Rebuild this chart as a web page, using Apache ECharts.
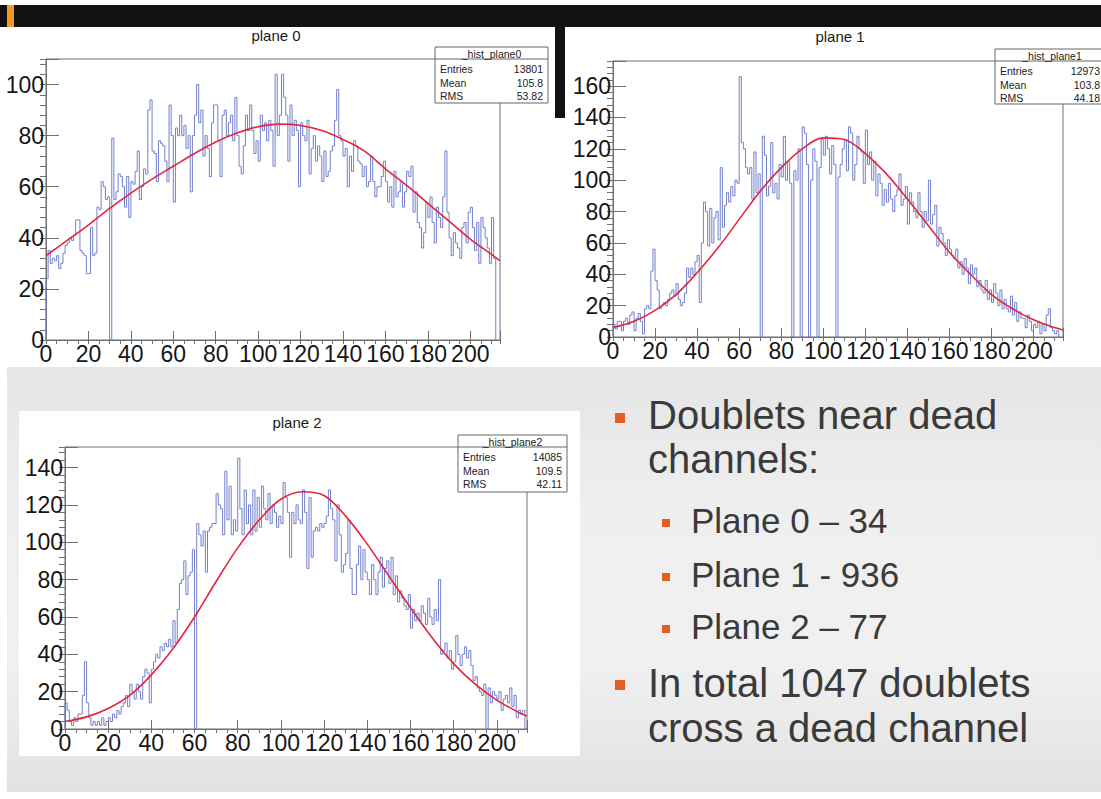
<!DOCTYPE html>
<html>
<head>
<meta charset="utf-8">
<title>Doublets near dead channels</title>
<script src="https://cdn.jsdelivr.net/npm/echarts@6/dist/echarts.min.js"></script>
<style>
  html, body { margin: 0; padding: 0; }
  body { width: 1101px; height: 799px; position: relative; overflow: hidden; background: #fff;
         font-family: "Liberation Sans", Arial, sans-serif; }
  .deco { position: absolute; z-index: 1; }
  .topbar { left: 0; top: 5px; width: 1101px; height: 22px; background: #111; }
  .mark { left: 7px; top: 5px; width: 7px; height: 22px; background: #f29a1d; z-index: 2; }
  .strip { left: 555px; top: 27px; width: 10px; height: 91px; background: #121212; }
  .floor { left: 7px; top: 367px; width: 1094px; height: 425px;
           background: linear-gradient(to bottom, #e5e5e5 0%, #efefef 35%, #f0f0f0 70%, #e2e2e2 100%); }
  .panel2 { left: 19px; top: 411px; width: 561px; height: 345px; background: #fff; }
  #chart { position: absolute; left: 0; top: 0; width: 1101px; height: 799px; z-index: 3; }
  .line { position: absolute; z-index: 4; white-space: nowrap; color: #3a3a3a; line-height: 1; }
  .big { font-size: 40px; }
  .small { font-size: 35px; }
  .dot { position: absolute; z-index: 4; background: #e2601e; }
</style>
</head>
<body>
<div class="deco topbar"></div>
<div class="deco mark"></div>
<div class="deco strip"></div>
<div class="deco floor"></div>
<div class="deco panel2"></div>
<div id="chart"></div>

<div class="dot" style="left:615px;top:413px;width:10px;height:10px"></div>
<div class="line big" style="left:648px;top:395px">Doublets near dead</div>
<div class="line big" style="left:648px;top:439px">channels:</div>
<div class="dot" style="left:662px;top:519px;width:8px;height:8px"></div>
<div class="line small" style="left:691px;top:503px">Plane 0 – 34</div>
<div class="dot" style="left:662px;top:573px;width:8px;height:8px"></div>
<div class="line small" style="left:691px;top:557px">Plane 1 - 936</div>
<div class="dot" style="left:662px;top:625px;width:8px;height:8px"></div>
<div class="line small" style="left:691px;top:609px">Plane 2 – 77</div>
<div class="dot" style="left:615px;top:680px;width:10px;height:10px"></div>
<div class="line big" style="left:648px;top:663px">In total 1047 doublets</div>
<div class="line big" style="left:648px;top:708px">cross a dead channel</div>

<script>
// channel histograms, one count per channel (bin width 1)
const plane0Counts = [
  24, 35, 30, 32, 31, 33, 28, 30, 34, 37,
  38, 40, 39, 41, 47, 47, 35, 34, 33, 26,
  26, 44, 33, 34, 52, 51, 62, 60, 55, 56,
  0, 79, 55, 58, 65, 64, 60, 52, 64, 48,
  62, 61, 66, 74, 55, 60, 67, 65, 90, 94,
  74, 73, 62, 78, 77, 76, 70, 62, 92, 80,
  54, 83, 80, 88, 80, 84, 75, 80, 58, 80,
  88, 100, 85, 90, 72, 80, 75, 64, 85, 92,
  92, 78, 64, 88, 90, 80, 85, 88, 78, 95,
  80, 68, 65, 76, 88, 82, 92, 82, 73, 78,
  70, 88, 82, 85, 78, 86, 82, 68, 104, 80,
  88, 104, 95, 88, 70, 92, 80, 86, 82, 60,
  85, 80, 78, 86, 65, 75, 80, 70, 76, 72,
  62, 74, 64, 66, 74, 76, 86, 98, 80, 78,
  72, 75, 60, 72, 66, 78, 76, 70, 69, 64,
  68, 60, 62, 72, 62, 56, 60, 60, 64, 70,
  62, 54, 60, 52, 66, 56, 58, 62, 52, 58,
  66, 64, 68, 50, 58, 46, 44, 36, 42, 54,
  48, 56, 46, 38, 52, 48, 44, 56, 74, 50,
  40, 33, 42, 38, 36, 32, 44, 46, 38, 50,
  52, 44, 35, 46, 30, 48, 44, 40, 36, 30,
  48, 32
];
const plane1Counts = [
  8, 5, 10, 10, 4, 10, 12, 8, 14, 16,
  4, 12, 15, 10, 2, 18, 20, 18, 42, 56,
  36, 30, 18, 20, 22, 20, 24, 28, 30, 26,
  34, 24, 20, 22, 28, 44, 38, 44, 40, 48,
  52, 22, 60, 86, 80, 58, 82, 60, 76, 80,
  62, 108, 70, 84, 92, 86, 96, 90, 100, 98,
  166, 124, 120, 108, 104, 108, 88, 118, 92, 104,
  0, 128, 116, 90, 96, 124, 92, 98, 88, 110,
  102, 128, 100, 112, 98, 0, 106, 100, 120, 0,
  134, 130, 110, 0, 100, 120, 112, 0, 108, 126,
  116, 128, 120, 104, 122, 110, 0, 102, 110, 120,
  126, 106, 134, 130, 100, 110, 128, 120, 118, 98,
  132, 110, 118, 100, 112, 90, 104, 98, 84, 94,
  86, 98, 88, 80, 90, 94, 104, 84, 88, 96,
  72, 92, 86, 80, 76, 92, 80, 70, 80, 74,
  100, 72, 78, 84, 58, 70, 66, 60, 52, 62,
  56, 52, 50, 56, 44, 48, 40, 50, 44, 34,
  46, 40, 44, 32, 36, 30, 28, 36, 24, 30,
  22, 34, 28, 20, 30, 18, 24, 18, 16, 26,
  14, 22, 10, 16, 12, 12, 6, 14, 10, 4,
  8, 6, 10, 2, 8, 4, 14, 18, 6, 4,
  2, 4
];
const plane2Counts = [
  14, 10, 4, 2, 6, 4, 8, 8, 18, 36,
  14, 6, 2, 4, 2, 4, 2, 6, 2, 4,
  6, 4, 8, 6, 10, 8, 12, 14, 18, 12,
  24, 20, 16, 24, 20, 16, 28, 32, 30, 14,
  32, 36, 40, 38, 44, 42, 46, 44, 48, 44,
  58, 46, 64, 78, 80, 90, 72, 82, 84, 96,
  0, 110, 104, 98, 106, 84, 106, 108, 110, 110,
  126, 120, 118, 104, 138, 112, 130, 104, 112, 106,
  145, 118, 104, 128, 110, 120, 104, 128, 106, 124,
  108, 130, 118, 112, 126, 110, 120, 116, 108, 114,
  110, 132, 124, 116, 92, 116, 110, 120, 112, 110,
  128, 116, 86, 124, 92, 106, 108, 106, 110, 108,
  110, 114, 128, 118, 112, 90, 120, 104, 84, 88,
  94, 112, 86, 72, 72, 88, 98, 80, 96, 84,
  80, 72, 88, 80, 72, 84, 92, 76, 86, 90,
  78, 92, 72, 82, 68, 74, 70, 66, 64, 72,
  54, 64, 58, 62, 58, 66, 62, 56, 70, 60,
  56, 64, 58, 80, 40, 42, 46, 38, 42, 32,
  36, 50, 40, 34, 40, 44, 38, 42, 34, 26,
  28, 22, 20, 18, 24, 0, 22, 14, 20, 18,
  16, 20, 10, 16, 18, 14, 22, 12, 18, 6,
  10, 8, 10
];

// fitted curves
const fitX = [0, 10, 20, 30, 40, 50, 60, 70, 80, 90, 100, 110, 120, 130, 140, 150, 160, 170, 180, 190, 200, 210, 214];
const fit0Y = [33, 39, 45, 51.5, 57.5, 63, 68, 73, 77.5, 81, 83.5, 84.5, 84, 82, 78.5, 74, 67, 60.5, 53.5, 46.5, 39.5, 33.5, 31];
const fit1Y = [6, 10, 17, 27, 41, 57, 75, 93, 108, 120, 127, 126, 117, 104, 88, 71, 54, 40, 27, 18, 11, 6, 4.5];
const fit2Y = [4, 6.5, 11, 18, 29, 43, 60, 79, 97, 112, 123, 127, 125, 114, 99, 82, 65, 49, 35, 24, 15.5, 9, 7];

const planeTitles = ['plane 0', 'plane 1', 'plane 2'];
const statNames = ['_hist_plane0', '_hist_plane1', '_hist_plane2'];
const statEntries = ['13801', '12973', '14085'];
const statMeans = ['105.8', '103.8', '109.5'];
const statRms = ['53.82', '44.18', '42.11'];
const xMax = 214;
const yMaxes = [110, 176, 151];

const FONT = '"Liberation Sans", Arial, sans-serif';
const HIST_COLOR = '#7380cc';
const FIT_COLOR = '#e3263d';
const FRAME = '#6f6f6f';

// pixel frames of the three pads
const grids = [
  { left: 46, top: 59, width: 454, height: 281 },
  { left: 613, top: 61, width: 450, height: 276 },
  { left: 65, top: 447, width: 462, height: 282 }
];
// stats boxes; the plane 1 box runs off the right edge, as in the slide
const boxes = [
  { x: 435, y: 47, w: 113, h: 56, valueRight: 108 },
  { x: 995, y: 49, w: 114, h: 55, valueRight: 105 },
  { x: 458, y: 435, w: 109, h: 57, valueRight: 104 }
];
const titlePos = [[276, 28], [840, 29], [297, 415]];

const chart = echarts.init(document.getElementById('chart'), null, { renderer: 'svg' });

function histPoints(counts) {
  const pts = [[0, 0]];
  counts.forEach((c, i) => pts.push([i, c]));
  pts.push([counts.length, counts[counts.length - 1]]);
  pts.push([counts.length, 0]);
  return pts;
}

function everyTwenty(v) {
  return v % 20 === 0 ? String(v) : '';
}

const xAxes = [], yAxes = [], series = [];
const allCounts = [plane0Counts, plane1Counts, plane2Counts];
const allFits = [fit0Y, fit1Y, fit2Y];

grids.forEach((g, i) => {
  xAxes.push({
    gridIndex: i, type: 'value', min: 0, max: xMax, interval: 20,
    axisLine: { show: true, lineStyle: { color: FRAME, width: 1 } },
    axisTick: { show: true, inside: true, length: 9, lineStyle: { color: FRAME } },
    splitLine: { show: false },
    axisLabel: { fontSize: 23, color: '#161616', fontFamily: FONT, margin: 2, formatter: everyTwenty }
  });
  xAxes.push({
    gridIndex: i, type: 'value', min: 0, max: xMax, interval: 5,
    axisLine: { show: false },
    axisTick: { show: true, inside: true, length: 4, lineStyle: { color: FRAME } },
    splitLine: { show: false }, axisLabel: { show: false }
  });
  yAxes.push({
    gridIndex: i, type: 'value', min: 0, max: yMaxes[i], interval: 20,
    axisLine: { show: true, lineStyle: { color: FRAME, width: 1 } },
    axisTick: { show: true, inside: true, length: 13, lineStyle: { color: FRAME } },
    splitLine: { show: false },
    axisLabel: { fontSize: 23, color: '#161616', fontFamily: FONT, margin: 2, formatter: everyTwenty }
  });
  yAxes.push({
    gridIndex: i, type: 'value', min: 0, max: yMaxes[i], interval: 4,
    axisLine: { show: false },
    axisTick: { show: true, inside: true, length: 6, lineStyle: { color: FRAME } },
    splitLine: { show: false }, axisLabel: { show: false }
  });

  series.push({
    type: 'line', xAxisIndex: 2 * i, yAxisIndex: 2 * i,
    data: histPoints(allCounts[i]), step: 'end', symbol: 'none',
    lineStyle: { color: HIST_COLOR, width: 1 }, z: 2
  });
  series.push({
    type: 'line', xAxisIndex: 2 * i, yAxisIndex: 2 * i,
    data: fitX.map((x, k) => [x, allFits[i][k]]), smooth: 0.35, symbol: 'none',
    lineStyle: { color: FIT_COLOR, width: 1.6 }, z: 3
  });
});

const graphic = [];
planeTitles.forEach((t, i) => {
  graphic.push({
    type: 'text', x: titlePos[i][0], y: titlePos[i][1], z: 10,
    style: { text: t, font: '15px ' + FONT, fill: '#1a1a1a', textAlign: 'center', textVerticalAlign: 'top' }
  });
});
boxes.forEach((b, i) => {
  const f = '10.5px ' + FONT;
  const rows = [['Entries', statEntries[i]], ['Mean', statMeans[i]], ['RMS', statRms[i]]];
  const kids = [
    { type: 'rect', shape: { x: 0, y: 0, width: b.w, height: b.h }, style: { fill: '#fff', stroke: '#666', lineWidth: 1 } },
    { type: 'line', shape: { x1: 0, y1: 12, x2: b.w, y2: 12 }, style: { stroke: '#666', lineWidth: 1 } },
    { type: 'text', x: b.w / 2, y: 6.5, style: { text: statNames[i], font: f, fill: '#222', textAlign: 'center', textVerticalAlign: 'middle' } }
  ];
  rows.forEach((r, k) => {
    const yy = 22 + k * 13.5;
    kids.push({ type: 'text', x: 5, y: yy, style: { text: r[0], font: f, fill: '#222', textAlign: 'left', textVerticalAlign: 'middle' } });
    kids.push({ type: 'text', x: b.valueRight, y: yy, style: { text: r[1], font: f, fill: '#222', textAlign: 'right', textVerticalAlign: 'middle' } });
  });
  graphic.push({ type: 'group', x: b.x, y: b.y, z: 10, children: kids });
});

chart.setOption({
  animation: false,
  backgroundColor: 'transparent',
  textStyle: { fontFamily: FONT },
  grid: grids.map(g => Object.assign({ show: true, borderColor: FRAME, borderWidth: 1, backgroundColor: 'transparent' }, g)),
  xAxis: xAxes,
  yAxis: yAxes,
  series: series,
  graphic: graphic
});
</script>
</body>
</html>
